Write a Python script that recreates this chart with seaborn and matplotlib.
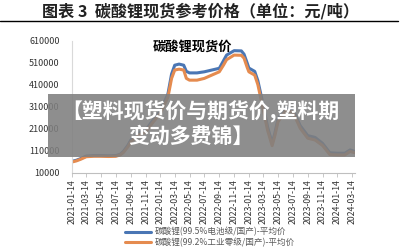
import matplotlib
matplotlib.use("Agg")
import matplotlib.pyplot as plt
import seaborn as sns
import pandas as pd
from matplotlib.lines import Line2D
from matplotlib.patches import Rectangle

dates = ["2021-01-14", "2021-02-01", "2021-02-20", "2021-03-14", "2021-04-14", "2021-05-14",
         "2021-06-14", "2021-07-14", "2021-08-01", "2021-08-14", "2021-09-01", "2021-09-14",
         "2021-10-14", "2021-11-14", "2021-12-14", "2022-01-14", "2022-02-14", "2022-03-01",
         "2022-03-14", "2022-04-01", "2022-04-20", "2022-05-01", "2022-05-14", "2022-06-14",
         "2022-07-14", "2022-08-14", "2022-09-14", "2022-10-01", "2022-10-14", "2022-11-14",
         "2022-12-14", "2022-12-25", "2023-01-07", "2023-01-14", "2023-02-07", "2023-02-20",
         "2023-03-14", "2023-04-01", "2023-04-20", "2023-05-01", "2023-05-14", "2023-06-14",
         "2023-07-14", "2023-08-14", "2023-09-14", "2023-10-14", "2023-11-14", "2023-12-14",
         "2024-01-14", "2024-02-14", "2024-03-07", "2024-03-26"]

battery = [63000, 68000, 76000, 87000, 89000, 89000,
           88000, 89000, 95000, 108000, 135000, 160000,
           190000, 205000, 250000, 292000, 370000, 460000,
           500000, 505000, 500000, 472000, 465000, 465000,
           470000, 478000, 486000, 520000, 546000, 566000,
           565000, 550000, 510000, 487000, 472000, 430000,
           320000, 220000, 146000, 190000, 255000, 305000,
           300000, 225000, 180000, 172000, 145000, 102000,
           100000, 100000, 115000, 108000]

industrial = [60000, 65000, 73000, 84000, 86000, 86000,
              85000, 86000, 92000, 103000, 128000, 152000,
              182000, 196000, 240000, 282000, 355000, 440000,
              478000, 482000, 478000, 440000, 432000, 432000,
              440000, 455000, 470000, 500000, 525000, 546000,
              545000, 532000, 490000, 470000, 455000, 412000,
              300000, 205000, 134000, 178000, 242000, 292000,
              288000, 213000, 168000, 160000, 135000, 94000,
              92000, 92000, 108000, 102000]

series_names = ["碳酸锂(99.5%电池级/国产)-平均价", "碳酸锂(99.2%工业零级/国产)-平均价"]
tick_labels = ["2021-01-14", "2021-03-14", "2021-05-14", "2021-07-14", "2021-09-14",
               "2021-11-14", "2022-01-14", "2022-03-14", "2022-05-14", "2022-07-14",
               "2022-09-14", "2022-11-14", "2023-01-14", "2023-03-14", "2023-05-14",
               "2023-07-14", "2023-09-14", "2023-11-14", "2024-01-14", "2024-03-14"]
y_ticks = [10000, 110000, 210000, 310000, 410000, 510000, 610000]

sns.set_theme(style="white")
plt.rcParams['font.family'] = ['Noto Sans CJK SC', 'DejaVu Sans']

df = pd.DataFrame({
    "date": pd.to_datetime(dates * 2),
    "value": battery + industrial,
    "series": [series_names[0]] * len(dates) + [series_names[1]] * len(dates),
})

fig = plt.figure(figsize=(4.04, 2.52), dpi=100)
ax = fig.add_axes([72 / 404, 1 - 173 / 252, 283 / 404, 132 / 252])

palette = {series_names[0]: "#4a76b4", series_names[1]: "#e58b4f"}
sns.lineplot(data=df, x="date", y="value", hue="series", palette=palette,
             linewidth=2.2, ax=ax, legend=True)

ax.set_xlim(pd.Timestamp("2021-01-14"), pd.Timestamp("2024-03-27"))
ax.set_ylim(10000, 610000)
ax.set_yticks(y_ticks)
ax.set_yticklabels([str(v) for v in y_ticks], fontsize=6.5, color="#333333")
ax.set_xticks(pd.to_datetime(tick_labels))
ax.set_xticklabels(tick_labels, rotation=90, fontsize=6.3, color="#333333")
ax.set_xlabel("")
ax.set_ylabel("")
ax.tick_params(axis="y", length=0, pad=9)
ax.tick_params(axis="x", length=3, width=0.6, color="#bfbfbf", direction="out", pad=1.5, bottom=True)
for s in ["top", "right"]:
    ax.spines[s].set_visible(False)
ax.spines["left"].set_color("#d9d9d9")
ax.spines["left"].set_linewidth(0.8)
ax.spines["bottom"].set_color("#bfbfbf")
ax.spines["bottom"].set_linewidth(0.8)
ax.grid(False)

handles, labels = ax.get_legend_handles_labels()
ax.get_legend().remove()
fig.legend(handles, labels, loc="lower left", bbox_to_anchor=(121 / 404, 0.5 / 252),
           frameon=False, fontsize=6.2, handlelength=3.0, handletextpad=0.45,
           labelspacing=0.15, borderpad=0, labelcolor="#595959")

# Titles
fig.text(200 / 404, 1 - 11 / 252, "图表 3  碳酸锂现货参考价格（单位：元/吨）", ha="center", va="center",
         fontsize=11.6, fontweight="bold", color="#222222")
fig.add_artist(Line2D([0, 398 / 404], [1 - 21 / 252] * 2, color="black", linewidth=1.0))
fig.text(192 / 404, 1 - 47 / 252, "碳酸锂现货价", ha="center", va="center",
         fontsize=9.5, fontweight="bold", color="black")

# Overlay banner
fig.add_artist(Rectangle((48 / 404, 1 - 157 / 252), 307 / 404, 63 / 252,
                         transform=fig.transFigure, facecolor="#7f7f7f", alpha=0.88,
                         edgecolor="none", zorder=10))
fig.text(200 / 404, 1 - 112 / 252, "【塑料现货价与期货价,塑料期", ha="center", va="center",
         fontsize=15, fontweight="bold", color="white", zorder=11)
fig.text(191 / 404, 1 - 136 / 252, "变动多费锦】", ha="center", va="center",
         fontsize=15, fontweight="bold", color="white", zorder=11)

fig.savefig("out.png", dpi=100)
